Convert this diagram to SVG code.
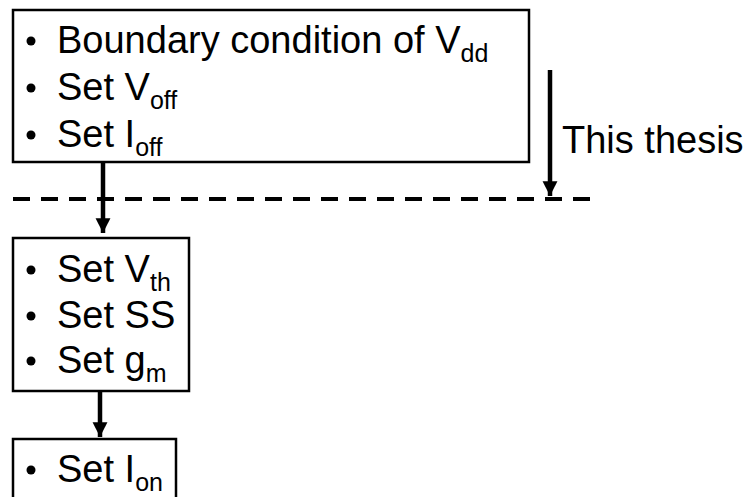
<svg xmlns="http://www.w3.org/2000/svg" width="748" height="497" viewBox="0 0 748 497">
  <style>
    .box { fill: #ffffff; stroke: #000000; stroke-width: 2.5; }
    .txt { font-family: "Liberation Sans", Arial, sans-serif; font-size: 38px; fill: #000000; }
    .sub { font-size: 25px; }
    .dot { fill: #000000; }
    .line { stroke: #000000; stroke-width: 4.5; fill: none; }
    .dash { stroke: #000000; stroke-width: 4; stroke-dasharray: 17 11; fill: none; }
  </style>
  <defs>
    <marker id="arrow" viewBox="0 0 10 10" refX="10" refY="5" markerWidth="3.3" markerHeight="3.4" orient="auto" markerUnits="strokeWidth">
      <path d="M0,0 L10,5 L0,10 Z" fill="#000000"/>
    </marker>
  </defs>
  <rect width="748" height="497" fill="#ffffff"/>

  <g id="connectors">
    <line class="dash" x1="13" y1="199" x2="592" y2="199"/>
    <line class="line" x1="103" y1="163" x2="103" y2="233" marker-end="url(#arrow)"/>
    <line class="line" x1="550" y1="70" x2="550" y2="196" marker-end="url(#arrow)"/>
    <line class="line" x1="100" y1="391" x2="100" y2="437" marker-end="url(#arrow)"/>
  </g>

  <g id="node-offstate">
    <rect class="box" x="13" y="10" width="516" height="152"/>
    <circle class="dot" cx="31" cy="41" r="4.5"/>
    <circle class="dot" cx="31" cy="88" r="4.5"/>
    <circle class="dot" cx="31" cy="135" r="4.5"/>
    <text class="txt" x="57" y="53">Boundary condition of V<tspan class="sub" dy="9">dd</tspan></text>
    <text class="txt" x="57" y="100">Set V<tspan class="sub" dy="9">off</tspan></text>
    <text class="txt" x="57" y="147">Set I<tspan class="sub" dy="9">off</tspan></text>
  </g>

  <g id="label-thesis">
    <text class="txt" x="562" y="153">This thesis</text>
  </g>

  <g id="node-subthreshold">
    <rect class="box" x="13" y="238" width="176" height="153"/>
    <circle class="dot" cx="31" cy="270" r="4.5"/>
    <circle class="dot" cx="31" cy="316" r="4.5"/>
    <circle class="dot" cx="31" cy="361" r="4.5"/>
    <text class="txt" x="57" y="282">Set V<tspan class="sub" dy="9">th</tspan></text>
    <text class="txt" x="57" y="328">Set SS</text>
    <text class="txt" x="57" y="373">Set g<tspan class="sub" dy="9">m</tspan></text>
  </g>

  <g id="node-onstate">
    <rect class="box" x="13" y="439" width="163" height="62"/>
    <circle class="dot" cx="31" cy="470" r="4.5"/>
    <text class="txt" x="57" y="482">Set I<tspan class="sub" dy="9">on</tspan></text>
  </g>
</svg>
